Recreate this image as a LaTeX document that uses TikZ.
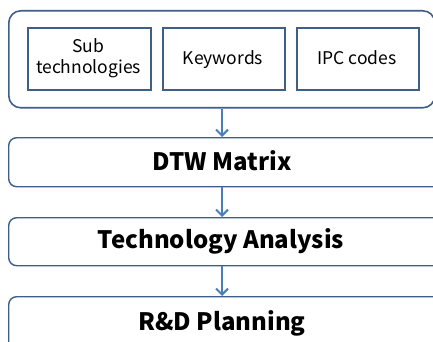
\documentclass[tikz,border=0pt]{standalone}
\usepackage{fontspec}
\setmainfont{Noto Sans CJK KR}
\usetikzlibrary{arrows.meta}
\definecolor{bordc}{HTML}{3F5F8A}
\definecolor{arrc}{HTML}{4A7EBB}
\tikzset{
  x=1pt,y=-1pt,
  outerbox/.style={draw=bordc,line width=1.6pt,rounded corners=12pt,fill=white},
  stagebox/.style={draw=bordc,line width=1.4pt,rounded corners=8pt,fill=white,inner sep=0pt},
  itembox/.style={draw=bordc,line width=1.6pt,inner sep=0pt,fill=white},
  itemtext/.style={inner sep=0pt,anchor=base,font=\fontsize{17.5}{21}\selectfont},
  stagetext/.style={inner sep=0pt,anchor=base,font=\fontsize{24}{28}\selectfont\bfseries},
  conn/.style={draw=arrc,line width=2pt,-{Straight Barb[length=6pt,width=12pt,line width=2pt]}},
}
\begin{document}
\begin{tikzpicture}
\useasboundingbox (0,0) rectangle (433,342);
\clip (0,0) rectangle (433,342);
\node[outerbox,minimum width=426pt,minimum height=97pt,anchor=north west] (outer) at (8,10) {};
\node[itembox,minimum width=123pt,minimum height=62pt,anchor=north west] (sub) at (27,27) {};
\node[itembox,minimum width=122pt,minimum height=62pt,anchor=north west] (kw) at (162,27) {};
\node[itembox,minimum width=122pt,minimum height=62pt,anchor=north west] (ipc) at (296,27) {};
\node[itemtext] (subt1) at (88.5,53) {Sub};
\node[itemtext] (subt2) at (88.5,74) {technologies};
\node[itemtext] (kwt) at (223,65) {Keywords};
\node[itemtext] (ipct) at (357,65) {IPC codes};
\node[stagebox,minimum width=440pt,minimum height=49pt,anchor=north west] (dtw) at (8,137) {};
\node[stagetext] (dtwt) at (222,170) {DTW Matrix};
\node[stagebox,minimum width=440pt,minimum height=48pt,anchor=north west] (ta) at (8,217) {};
\node[stagetext] (tat) at (221,248) {Technology Analysis};
\node[stagebox,minimum width=440pt,minimum height=70pt,anchor=north west] (rd) at (8,296) {};
\node[stagetext] (rdt) at (222,330) {R\&D Planning};
\draw[conn] (outer.south -| dtwt) -- (dtw.north -| dtwt);
\draw[conn] (dtw.south -| dtwt) -- (ta.north -| dtwt);
\draw[conn] (ta.south -| dtwt) -- (rd.north -| dtwt);
\end{tikzpicture}
\end{document}
